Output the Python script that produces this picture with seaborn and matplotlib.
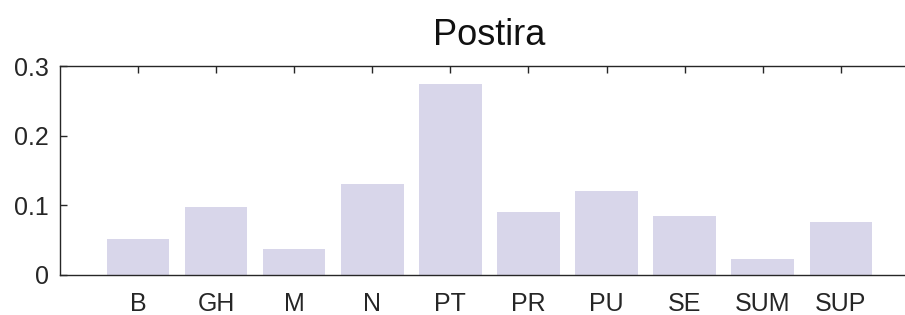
import matplotlib
matplotlib.use('Agg')
import matplotlib.pyplot as plt
import seaborn as sns
import pandas as pd

# values
categories = ['B', 'GH', 'M', 'N', 'PT', 'PR', 'PU', 'SE', 'SUM', 'SUP']
values = [0.052, 0.097, 0.038, 0.131, 0.275, 0.091, 0.121, 0.085, 0.023, 0.076]
yticks = [0, 0.1, 0.2, 0.3]
ytick_labels = ['0', '0.1', '0.2', '0.3']

sns.set_theme(style='ticks')
plt.rcParams['font.family'] = ['Liberation Sans', 'DejaVu Sans']

df = pd.DataFrame({'cat': categories, 'val': values})

fig = plt.figure(figsize=(9.05, 3.15), dpi=100)
ax = fig.add_axes([0.0663, 0.127, 0.949, 0.663])

sns.barplot(data=df, x='cat', y='val', color='#d8d6ea', saturation=1,
            width=0.8, ax=ax, edgecolor='none')

ax.set_xlim(-1, 10)
ax.set_ylim(0, 0.3)
ax.set_yticks(yticks)
ax.set_yticklabels(ytick_labels)
ax.set_xlabel('')
ax.set_ylabel('')
ax.set_title('Postira', fontsize=26, pad=15, color='#111111')

for s in ax.spines.values():
    s.set_linewidth(1.0)
    s.set_color('#262626')
ax.spines['right'].set_visible(False)

ax.tick_params(axis='both', direction='in', length=5, width=1, color='#262626',
               labelsize=18, labelcolor='#262626', top=True)
ax.tick_params(axis='x', pad=12)
ax.tick_params(axis='y', pad=8)

fig.savefig('out.png', dpi=100)
